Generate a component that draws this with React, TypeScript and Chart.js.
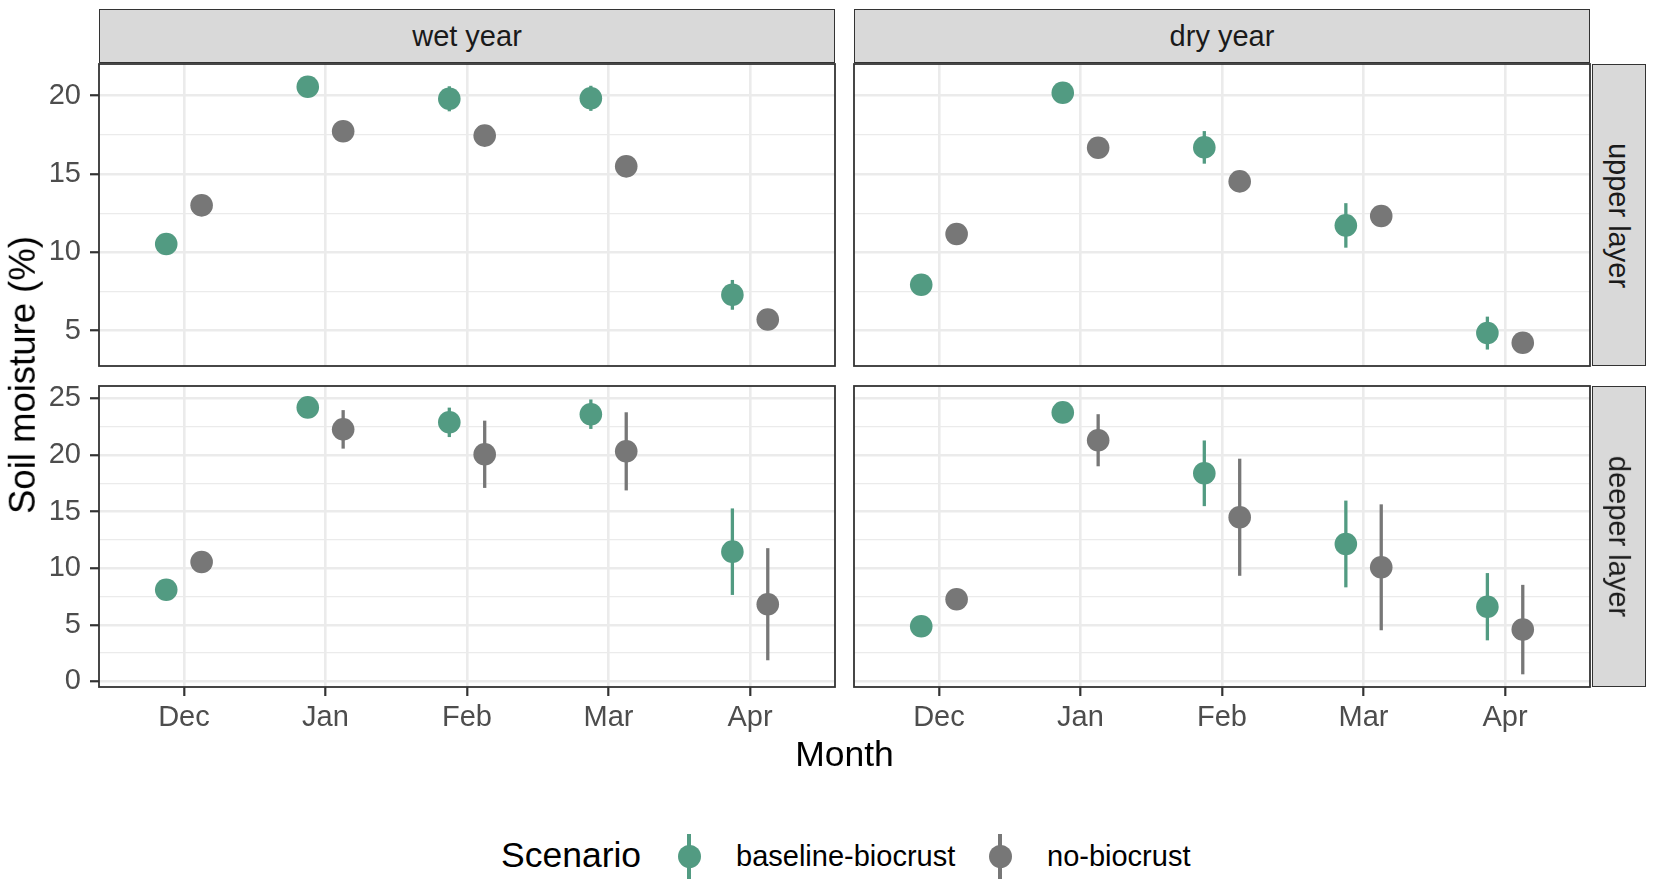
import React, { useEffect, useRef } from 'react';
import { Chart, registerables } from 'chart.js';

Chart.register(...registerables);

// ---------- data ----------
const months = ['Dec', 'Jan', 'Feb', 'Mar', 'Apr'];
const scenarios = ['baseline-biocrust', 'no-biocrust'];
const years = ['wet year', 'dry year'];
const layers = ['upper layer', 'deeper layer'];

// wet year, upper layer
const wetUpperBaseline = [10.53, 20.57, 19.8, 19.83, 7.29];
const wetUpperBaselineErr = [0.3, 0.3, 0.8, 0.8, 0.95];
const wetUpperNoCrust = [13.0, 17.73, 17.45, 15.49, 5.72];
const wetUpperNoCrustErr = [0.3, 0.3, 0.3, 0.3, 0.3];

// dry year, upper layer
const dryUpperBaseline = [7.93, 20.19, 16.7, 11.72, 4.85];
const dryUpperBaselineErr = [0.3, 0.3, 1.04, 1.42, 1.05];
const dryUpperNoCrust = [11.17, 16.68, 14.53, 12.32, 4.23];
const dryUpperNoCrustErr = [0.3, 0.3, 0.3, 0.3, 0.3];

// wet year, deeper layer
const wetDeepBaseline = [8.1, 24.2, 22.88, 23.6, 11.46];
const wetDeepBaselineErr = [0.3, 0.3, 1.3, 1.3, 3.82];
const wetDeepNoCrust = [10.55, 22.26, 20.06, 20.32, 6.82];
const wetDeepNoCrustErr = [0.3, 1.7, 2.97, 3.45, 4.95];

// dry year, deeper layer
const dryDeepBaseline = [4.88, 23.76, 18.38, 12.14, 6.6];
const dryDeepBaselineErr = [0.3, 0.3, 2.9, 3.83, 2.97];
const dryDeepNoCrust = [7.26, 21.3, 14.5, 10.08, 4.58];
const dryDeepNoCrustErr = [0.3, 2.3, 5.17, 5.56, 3.95];

const yTickStep = 2.5; // minor grid spacing
const yMajorStep = 5; // labelled ticks

// ---------- style ----------
const FONT = "'Liberation Sans', Arial, Helvetica, sans-serif";
const colors = ['#529B82', '#777777'];
const DODGE = 0.125;
const PANEL_X = [99, 854];
const PANEL_W = 736;
const PANEL_Y = [64, 386];
const PANEL_H = [302, 301];
const ROW_LIMITS = [
  [2.75, 22.02],
  [-0.49, 26.09],
];
const SMALL = 29;
const TITLE = 35.5;

type PanelProps = {
  col: number;
  row: number;
  means: number[][];
  errs: number[][];
};

function isMajor(v: number) {
  const r = Math.abs(v / yMajorStep - Math.round(v / yMajorStep));
  return r < 1e-6;
}

function Panel({ col, row, means, errs }: PanelProps) {
  const ref = useRef<HTMLCanvasElement>(null);
  const padL = col === 0 ? 0 : 5;
  const padR = 5;
  const padT = 5;
  const padB = row === 0 ? 5 : 0;
  const yAxisW = col === 0 ? 99 : 0;
  const xAxisH = row === 0 ? 0 : 54;
  const left = PANEL_X[col] - yAxisW - padL;
  const top = PANEL_Y[row] - padT;
  const width = yAxisW + padL + PANEL_W + padR;
  const height = padT + PANEL_H[row] + xAxisH + padB;

  useEffect(() => {
    const canvas = ref.current!;
    const datasets = means.map((m, s) => ({
      label: scenarios[s],
      data: m.map((v, i) => ({
        x: i + 1 + (s === 0 ? -DODGE : DODGE),
        y: v,
        err: errs[s][i],
      })),
      backgroundColor: colors[s],
      borderColor: colors[s],
      borderWidth: 0,
      pointRadius: 11.3,
      pointHoverRadius: 11.3,
      showLine: false,
    }));

    const errorBars = {
      id: 'errorBars',
      beforeDatasetsDraw(chart: any) {
        const ctx = chart.ctx;
        const xs = chart.scales.x;
        const ys = chart.scales.y;
        ctx.save();
        ctx.lineWidth = 3.3;
        ctx.lineCap = 'butt';
        chart.data.datasets.forEach((ds: any) => {
          ctx.strokeStyle = ds.backgroundColor;
          ds.data.forEach((p: any) => {
            const x = xs.getPixelForValue(p.x);
            ctx.beginPath();
            ctx.moveTo(x, ys.getPixelForValue(p.y - p.err));
            ctx.lineTo(x, ys.getPixelForValue(p.y + p.err));
            ctx.stroke();
          });
        });
        ctx.restore();
      },
    };

    const panelBorder = {
      id: 'panelBorder',
      afterDraw(chart: any) {
        const ctx = chart.ctx;
        const a = chart.chartArea;
        ctx.save();
        ctx.strokeStyle = '#333333';
        ctx.lineWidth = 1.8;
        ctx.strokeRect(a.left, a.top, a.right - a.left, a.bottom - a.top);
        ctx.restore();
      },
    };

    const [yMin, yMax] = ROW_LIMITS[row];

    const chart = new Chart(canvas, {
      type: 'scatter',
      data: { datasets: datasets as any },
      options: {
        animation: false,
        responsive: false,
        maintainAspectRatio: false,
        events: [],
        layout: {
          autoPadding: false,
          padding: { left: padL, right: padR, top: padT, bottom: padB },
        },
        plugins: { legend: { display: false }, tooltip: { enabled: false } },
        scales: {
          x: {
            type: 'linear',
            min: 0.4,
            max: 5.6,
            bounds: 'data',
            border: { display: false },
            grid: {
              color: '#EBEBEB',
              lineWidth: 2.6,
              drawTicks: row === 1,
              tickLength: 9,
              tickColor: '#333333',
              tickWidth: 2.2,
            },
            ticks: {
              display: row === 1,
              autoSkip: false,
              maxRotation: 0,
              padding: 5,
              color: '#4D4D4D',
              font: { family: FONT, size: SMALL },
              callback: (v: any) => months[Math.round(Number(v)) - 1] ?? '',
            },
            afterBuildTicks: (scale: any) => {
              scale.ticks = months.map((_, i) => ({ value: i + 1 }));
            },
            afterFit: (scale: any) => {
              scale.height = xAxisH;
              scale.paddingLeft = 0;
              scale.paddingRight = 0;
              scale.paddingTop = 0;
              scale.paddingBottom = 0;
            },
          } as any,
          y: {
            type: 'linear',
            min: yMin,
            max: yMax,
            bounds: 'data',
            border: { display: false },
            grid: {
              color: '#EBEBEB',
              lineWidth: (c: any) => (isMajor(c.tick.value) ? 2.5 : 1.3),
              drawTicks: col === 0,
              tickLength: 9,
              tickColor: (c: any) => (isMajor(c.tick.value) ? '#333333' : 'rgba(0,0,0,0)'),
              tickWidth: 2.2,
            },
            ticks: {
              display: col === 0,
              autoSkip: false,
              padding: 9,
              color: '#4D4D4D',
              font: { family: FONT, size: SMALL },
              callback: (v: any) => (isMajor(Number(v)) ? String(v) : ''),
            },
            afterBuildTicks: (scale: any) => {
              const ticks: { value: number }[] = [];
              const k0 = Math.ceil(yMin / yTickStep);
              const k1 = Math.floor(yMax / yTickStep);
              for (let k = k0; k <= k1; k++) ticks.push({ value: k * yTickStep });
              scale.ticks = ticks;
            },
            afterFit: (scale: any) => {
              scale.width = yAxisW;
              scale.paddingLeft = 0;
              scale.paddingRight = 0;
              scale.paddingTop = 0;
              scale.paddingBottom = 0;
            },
          } as any,
        },
      },
      plugins: [errorBars, panelBorder],
    });
    return () => chart.destroy();
  }, []);

  return (
    <canvas
      ref={ref}
      width={width}
      height={height}
      style={{ position: 'absolute', left, top, width, height }}
    />
  );
}

const stripBase: React.CSSProperties = {
  position: 'absolute',
  background: '#D9D9D9',
  border: '1.8px solid #333333',
  boxSizing: 'border-box',
  display: 'flex',
  alignItems: 'center',
  justifyContent: 'center',
  color: '#1A1A1A',
  fontSize: SMALL,
  fontFamily: FONT,
  whiteSpace: 'nowrap',
};

function LegendKey({ color, cx }: { color: string; cx: number }) {
  return (
    <>
      <div
        style={{
          position: 'absolute',
          left: cx - 1.65,
          top: 856 - 22.5,
          width: 3.3,
          height: 45,
          background: color,
        }}
      />
      <div
        style={{
          position: 'absolute',
          left: cx - 11.5,
          top: 856 - 11.5,
          width: 23,
          height: 23,
          borderRadius: '50%',
          background: color,
        }}
      />
    </>
  );
}

const textAbs: React.CSSProperties = {
  position: 'absolute',
  color: '#000000',
  whiteSpace: 'nowrap',
  lineHeight: 1,
};

export default function App() {
  const panels = [
    { col: 0, row: 0, means: [wetUpperBaseline, wetUpperNoCrust], errs: [wetUpperBaselineErr, wetUpperNoCrustErr] },
    { col: 1, row: 0, means: [dryUpperBaseline, dryUpperNoCrust], errs: [dryUpperBaselineErr, dryUpperNoCrustErr] },
    { col: 0, row: 1, means: [wetDeepBaseline, wetDeepNoCrust], errs: [wetDeepBaselineErr, wetDeepNoCrustErr] },
    { col: 1, row: 1, means: [dryDeepBaseline, dryDeepNoCrust], errs: [dryDeepBaselineErr, dryDeepNoCrustErr] },
  ];
  return (
    <div
      style={{
        position: 'absolute',
        left: 0,
        top: 0,
        width: 1654,
        height: 888,
        background: '#FFFFFF',
        fontFamily: FONT,
        overflow: 'hidden',
      }}
    >
      {panels.map((p) => (
        <Panel key={`${p.col}-${p.row}`} {...p} />
      ))}

      {years.map((y, c) => (
        <div
          key={y}
          style={{ ...stripBase, left: PANEL_X[c], top: 9, width: PANEL_W, height: 54, paddingTop: 1 }}
        >
          {y}
        </div>
      ))}

      {layers.map((l, r) => (
        <div
          key={l}
          style={{ ...stripBase, left: 1592, top: PANEL_Y[r], width: 54, height: PANEL_H[r] }}
        >
          <span style={{ transform: 'rotate(90deg)', display: 'inline-block' }}>{l}</span>
        </div>
      ))}

      <div
        style={{
          ...textAbs,
          left: 23,
          top: 375,
          transform: 'translate(-50%, -50%) rotate(-90deg)',
          fontSize: TITLE + 1,
        }}
      >
        Soil moisture (%)
      </div>

      <div
        style={{
          ...textAbs,
          left: 844.5,
          top: 755,
          transform: 'translate(-50%, -50%)',
          fontSize: TITLE,
        }}
      >
        Month
      </div>

      <div
        style={{
          ...textAbs,
          left: 501,
          top: 856,
          transform: 'translateY(-50%)',
          fontSize: TITLE,
        }}
      >
        Scenario
      </div>
      <LegendKey color={colors[0]} cx={689} />
      <div
        style={{
          ...textAbs,
          left: 736,
          top: 856,
          transform: 'translateY(-50%)',
          fontSize: SMALL,
        }}
      >
        {scenarios[0]}
      </div>
      <LegendKey color={colors[1]} cx={1000} />
      <div
        style={{
          ...textAbs,
          left: 1047,
          top: 856,
          transform: 'translateY(-50%)',
          fontSize: SMALL,
        }}
      >
        {scenarios[1]}
      </div>
    </div>
  );
}
